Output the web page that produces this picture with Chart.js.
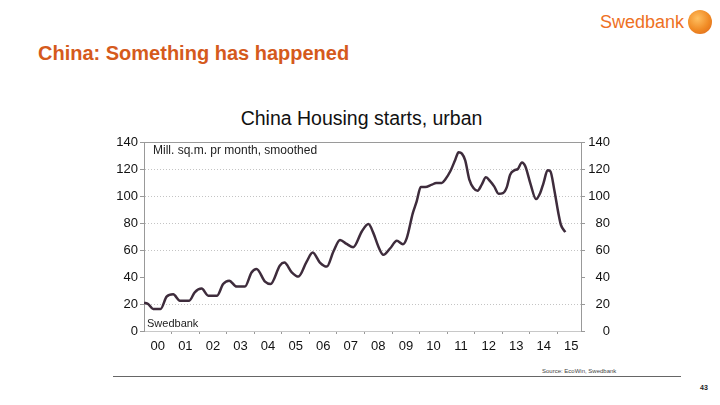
<!DOCTYPE html>
<html>
<head>
<meta charset="utf-8">
<script src="https://cdn.jsdelivr.net/npm/chart.js@4"></script>
<style>
  body { margin: 0; background: #fff; }
  #page { position: relative; width: 720px; height: 405px; overflow: hidden; font-family: "Liberation Sans", Arial, sans-serif; }
  .txt { position: absolute; white-space: nowrap; line-height: 1; }
  #titel { left: 38px; top: 43px; font-size: 20px; font-weight: bold; color: #d55a1c; }
  #logo { left: 600px; top: 13px; font-size: 18px; color: #ee7023; }
  #boll { position: absolute; left: 688px; top: 10px; width: 24px; height: 24px; border-radius: 50%;
          background: radial-gradient(circle at 40% 35%, #ffc061, #f08a24 55%, #d9621a); }
  #diagramTitel { left: 0; width: 723px; text-align: center; top: 109px; font-size: 19.5px; color: #111; }
  #enhet { left: 153px; top: 144px; font-size: 12px; color: #222; }
  #kalla1 { left: 147px; top: 318px; font-size: 11px; color: #222; }
  #kalla2 { left: 542px; top: 368px; font-size: 6px; color: #444; }
  #linje { position: absolute; left: 113px; top: 376px; width: 568px; height: 1px; background: #666; }
  #sida { left: 700px; top: 384px; font-size: 7px; font-weight: bold; color: #222; }
  #grafik { position: absolute; left: 0; top: 130px; }
</style>
</head>
<body>
<div id="page">
  <div class="txt" id="titel">China: Something has happened</div>
  <div class="txt" id="logo">Swedbank</div>
  <div id="boll"></div>
  <div class="txt" id="diagramTitel">China Housing starts, urban</div>
  <canvas id="grafik" width="720" height="230"></canvas>
  <div class="txt" id="enhet">Mill. sq.m. pr month, smoothed</div>
  <div class="txt" id="kalla1">Swedbank</div>
  <div class="txt" id="kalla2">Source: EcoWin, Swedbank</div>
  <div id="linje"></div>
  <div class="txt" id="sida">43</div>
</div>
<script>
// tidpunkter (decimalår) och värden
const tid = [
  2000.0, 2000.15, 2000.33, 2000.60, 2000.82, 2001.06, 2001.30, 2001.64, 2001.84,
  2002.09, 2002.33, 2002.65, 2002.87, 2003.09, 2003.36, 2003.66, 2003.90,
  2004.08, 2004.39, 2004.59, 2004.93, 2005.09, 2005.36, 2005.60, 2005.90,
  2006.12, 2006.38, 2006.63, 2006.87, 2007.11, 2007.35, 2007.59, 2007.90,
  2008.14, 2008.32, 2008.50, 2008.68, 2008.93, 2009.17, 2009.39, 2009.53,
  2009.75, 2009.89, 2010.04, 2010.20, 2010.44, 2010.60, 2010.80, 2010.92,
  2011.11, 2011.29, 2011.41, 2011.53, 2011.65, 2011.80, 2011.95,
  2012.10, 2012.25, 2012.40, 2012.56, 2012.70, 2012.86, 2013.02, 2013.16,
  2013.28, 2013.43, 2013.56, 2013.71, 2013.83, 2014.01, 2014.22, 2014.37,
  2014.49, 2014.64, 2014.74, 2014.88, 2015.04, 2015.12, 2015.28
];
const bostadsstarter = [
  21.0, 20.0, 16.3, 16.3, 25.4, 27.2, 22.5, 22.5, 28.7,
  31.4, 26.2, 26.2, 34.8, 37.3, 32.9, 32.9, 43.3,
  46.0, 36.6, 34.8, 48.5, 50.7, 43.5, 40.3, 51.4,
  58.1, 50.7, 47.7, 58.9, 67.5, 64.5, 62.1, 73.7,
  79.2, 72.5, 62.6, 56.4, 61.3, 66.8, 64.3, 68.8,
  87.3, 96.0, 106.6, 106.6, 108.4, 109.6, 109.6, 112.1,
  118.3, 126.9, 132.4, 131.4, 126.4, 112.1, 105.9,
  103.9, 108.4, 113.8, 110.8, 107.1, 101.7, 102.2, 106.6,
  115.8, 119.0, 120.0, 124.9, 122.0, 109.6, 97.7, 102.2,
  109.6, 119.0, 118.3, 104.6, 86.1, 78.7, 73.2
];
const arEtiketter = ['00','01','02','03','04','05','06','07','08','09','10','11','12','13','14','15'];
const yTicks = [0, 20, 40, 60, 80, 100, 120, 140];

const fontTick = { family: "'Liberation Sans', Arial, sans-serif", size: 13 };

const ramTopp = {
  id: 'ramTopp',
  beforeDatasetsDraw(chart) {
    const a = chart.chartArea, ctx = chart.ctx;
    ctx.save();
    ctx.strokeStyle = '#9a9a9a';
    ctx.lineWidth = 1;
    ctx.beginPath();
    ctx.moveTo(a.left, a.top + 0.5);
    ctx.lineTo(a.right, a.top + 0.5);
    ctx.stroke();
    ctx.restore();
  }
};

const yAxel = (pos) => ({
  type: 'linear',
  position: pos,
  min: 0, max: 140,
  afterBuildTicks: s => { s.ticks = yTicks.map(v => ({ value: v })); },
  afterFit: s => { s.width = pos === 'left' ? 144 : 29; },
  border: { color: '#999', width: 1, dash: [1, 2] },
  grid: {
    drawOnChartArea: pos === 'left',
    color: c => [20, 60, 80, 100, 120].includes(c.tick && c.tick.value) ? '#c4c4c4' : 'rgba(0,0,0,0)',
    tickColor: '#999',
    tickLength: 4
  },
  ticks: {
    font: fontTick, color: '#111', padding: 2,
    crossAlign: pos === 'left' ? 'near' : 'far'
  }
});

new Chart(document.getElementById('grafik'), {
  type: 'line',
  data: {
    datasets: [{
      data: tid.map((t, i) => ({ x: t, y: bostadsstarter[i] })),
      borderColor: '#3e2c3c',
      borderWidth: 2.5,
      pointRadius: 0,
      cubicInterpolationMode: 'monotone',
      fill: false
    }]
  },
  options: {
    responsive: false,
    devicePixelRatio: 1,
    animation: false,
    layout: { padding: { left: 0, right: 110, top: 12, bottom: 0 } },
    plugins: { legend: { display: false }, tooltip: { enabled: false } },
    scales: {
      x: {
        type: 'linear',
        min: 2000, max: 2015.85,
        afterBuildTicks: s => {
          const t = [];
          for (let i = 0; i < arEtiketter.length; i++) {
            t.push({ value: 2000 + i });
            t.push({ value: 2000.5 + i });
          }
          s.ticks = t;
        },
        afterFit: s => { s.height = 29; },
        border: { color: '#c8c8c8', width: 1 },
        grid: {
          drawOnChartArea: false,
          tickLength: 3,
          tickColor: c => (c.tick && c.tick.value % 1 === 0 && c.tick.value > 2000) ? '#999' : 'rgba(0,0,0,0)'
        },
        ticks: {
          font: fontTick, color: '#111', padding: 5,
          autoSkip: false, maxRotation: 0,
          callback: v => (v % 1 === 0.5) ? arEtiketter[Math.floor(v - 2000)] : ''
        }
      },
      y: yAxel('left'),
      y2: yAxel('right')
    }
  },
  plugins: [ramTopp]
});
</script>
</body>
</html>
